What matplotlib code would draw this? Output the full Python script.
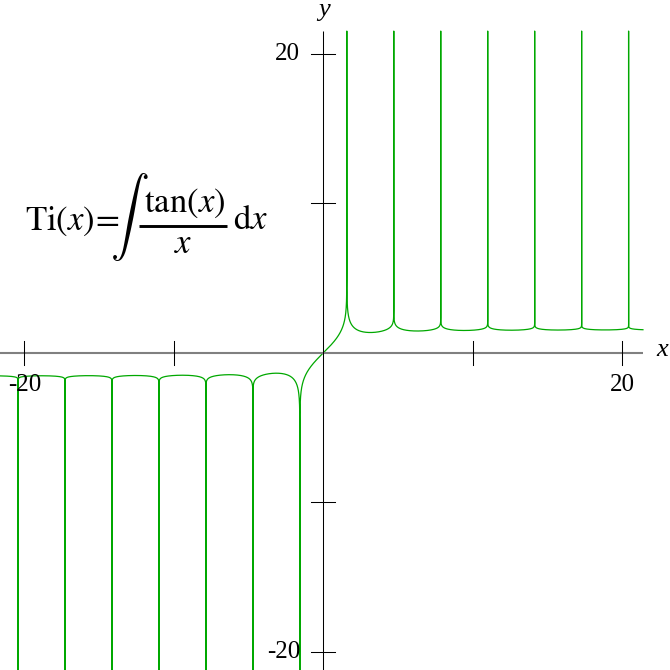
import numpy as np
import matplotlib
matplotlib.use('Agg')
import matplotlib.pyplot as plt
from matplotlib.lines import Line2D

# plot window (data units)
x_range = [-21.63, 23.19]
y_range = [-21.23, 23.62]
curve_x_end = 21.38
curve_top = 21.54
axis_x_end = 21.38

x_ticks = [-20, -10, 10, 20]
y_ticks = [-20, -10, 10, 20]
x_tick_labels = {-20: '-20', 20: '20'}
y_tick_labels = {-20: '-20', 20: '20'}

green = '#00a800'
serif = ['Liberation Serif', 'DejaVu Serif']
W = H = 670


def ti_curve(x0, x1, step=0.001):
    # Ti(x) = PV integral from 0 to x of tan(t)/t dt
    n0 = int(round(x0 / step))
    n1 = int(round(x1 / step))
    t = np.arange(n0, n1 + 1) * step
    ks = np.arange(-8, 8)
    poles = np.pi / 2 + ks * np.pi
    poles = poles[(poles > x0) & (poles < x1)]

    tt = np.where(t == 0, 1.0, t)
    f = np.where(t == 0, 1.0, np.tan(t) / tt)
    g = f.copy()
    for a in poles:
        g += 1.0 / (a * (t - a))
    cum = np.concatenate([[0], np.cumsum((g[1:] + g[:-1]) / 2 * step)])
    cum -= cum[-n0]
    F = cum.copy()
    for a in poles:
        F -= (np.log(np.abs(t - a)) - np.log(abs(a))) / a

    # vertical strokes through each pole
    xs, ys = list(t), list(F)
    for a in sorted(poles, reverse=True):
        i = np.searchsorted(t, a)
        xs.insert(i, a)
        ys.insert(i, curve_top if a > 0 else -40)
    return np.array(xs), np.array(ys)


def px(x, y):
    return x / W, 1 - y / H


plt.rcParams['mathtext.fontset'] = 'stix'

fig = plt.figure(figsize=(W / 100, H / 100), dpi=100)
ax = fig.add_axes([0, 0, 1, 1])
ax.set_xlim(x_range)
ax.set_ylim(y_range)
ax.axis('off')

cx, cy = ti_curve(x_range[0], curve_x_end)
ax.plot(cx, cy, color=green, lw=0.9, zorder=1)

# axes
ax.plot([x_range[0], axis_x_end], [0, 0], color='#808080', lw=1.5, zorder=2,
        solid_capstyle='butt')
ax.plot([0, 0], [y_range[0], curve_top], color='black', lw=0.75, zorder=2,
        solid_capstyle='butt')

tl = 0.8
for v in x_ticks:
    ax.plot([v, v], [-tl, tl], color='black', lw=0.75, zorder=2)
    if v in x_tick_labels:
        ax.text(v, -2.15, x_tick_labels[v], ha='center', va='center',
                fontsize=18, family=serif, zorder=3)
for v in y_ticks:
    ax.plot([-tl, tl], [v, v], color='black', lw=0.75, zorder=2)
    if v in y_tick_labels:
        ax.text(-1.56, v, y_tick_labels[v], ha='right', va='center',
                fontsize=18, family=serif, zorder=3)

ax.text(22.65, 0.19, 'x', ha='center', va='center', fontsize=19,
        family=serif, style='italic')
ax.text(0.05, 22.95, 'y', ha='center', va='center', fontsize=19,
        family=serif, style='italic')

# formula, built from pieces
fs = 25
fig.text(*px(25, 230), r'$\mathrm{Ti}(x)\!=$', ha='left', va='baseline', fontsize=fs)
fig.text(*px(129, 217), r'$\int$', ha='center', va='center', fontsize=28,
         math_fontfamily='cm')
fig.text(*px(184.5, 212), r'$\tan(x)$', ha='center', va='baseline', fontsize=fs)
fig.text(*px(183, 253), r'$x$', ha='center', va='baseline', fontsize=fs)
fig.text(*px(233, 229), r'$\mathrm{d}x$', ha='left', va='baseline', fontsize=fs)
x0, y0 = px(139, 225.8)
x1, _ = px(227, 225.8)
fig.add_artist(Line2D([x0, x1], [y0, y0], color='black', lw=2.1,
                      transform=fig.transFigure, solid_capstyle='butt'))

fig.savefig('out.png', dpi=100)
